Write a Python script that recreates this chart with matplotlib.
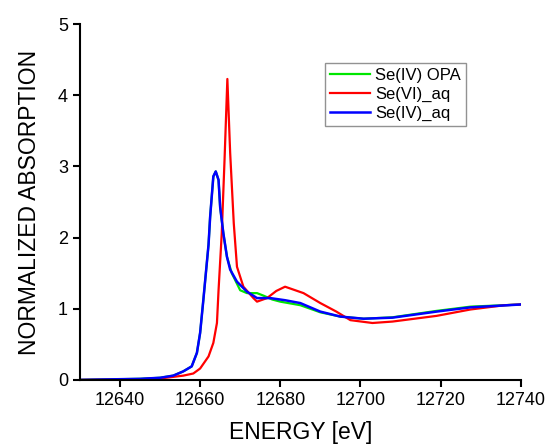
import matplotlib.pyplot as plt

plt.rcParams["font.family"] = ["Liberation Sans", "DejaVu Sans"]

# energy [eV] and normalized absorption
energy_opa = [12630, 12640, 12645, 12650, 12653.3, 12655.8, 12657.9, 12659.2, 12660, 12660.8,
              12662.1, 12662.5, 12663.3, 12663.9, 12664.6, 12665, 12665.8, 12666.7, 12667.9,
              12670, 12671.7, 12674.2, 12676, 12678, 12680, 12685, 12690, 12695, 12700.8,
              12708, 12719, 12727.5, 12740]
se4_opa = [0.0, 0.01, 0.015, 0.03, 0.06, 0.12, 0.19, 0.38, 0.66, 1.12,
           1.9, 2.29, 2.86, 2.93, 2.81, 2.43, 2.06, 1.73, 1.5,
           1.26, 1.22, 1.22, 1.18, 1.13, 1.1, 1.05, 0.95, 0.89, 0.86,
           0.88, 0.97, 1.03, 1.06]

energy_aq4 = [12630, 12640, 12645, 12650, 12653.3, 12655.8, 12657.9, 12659.2, 12660, 12660.8,
              12662.1, 12662.5, 12663.3, 12663.9, 12664.6, 12665, 12665.8, 12666.7, 12667.5,
              12669.2, 12671.7, 12674.2, 12677.5, 12681.2, 12685, 12690, 12695, 12700.8,
              12708, 12719, 12727.5, 12740]
se4_aq = [0.0, 0.01, 0.015, 0.03, 0.06, 0.12, 0.19, 0.38, 0.66, 1.12,
          1.9, 2.29, 2.86, 2.93, 2.81, 2.43, 2.06, 1.73, 1.55,
          1.38, 1.24, 1.15, 1.15, 1.12, 1.08, 0.96, 0.89, 0.86,
          0.875, 0.96, 1.02, 1.06]

energy_aq6 = [12630, 12640, 12645, 12650, 12655.8, 12658.3, 12660, 12662.1, 12663.3, 12664.2,
              12664.6, 12665.4, 12666.1, 12666.8, 12667.5, 12668.4, 12669.2, 12670.8,
              12673.3, 12674.2, 12676.7, 12679, 12681.2, 12685.8, 12690, 12694, 12697.5,
              12703, 12708, 12719, 12727.5, 12736, 12740]
se6_aq = [0.0, 0.005, 0.01, 0.02, 0.06, 0.09, 0.16, 0.33, 0.52, 0.8,
          1.26, 2.06, 3.1, 4.23, 3.19, 2.2, 1.59, 1.31,
          1.15, 1.1, 1.15, 1.25, 1.31, 1.22, 1.08, 0.96, 0.84,
          0.8, 0.82, 0.9, 0.99, 1.05, 1.06]

fig = plt.figure(figsize=(5.51, 4.48), dpi=100)
ax = fig.add_axes([0.145, 0.152, 0.8, 0.794])

ax.plot(energy_opa, se4_opa, color="#00e600", lw=1.6, label="Se(IV) OPA")
ax.plot(energy_aq6, se6_aq, color="#ff0000", lw=1.6, label="Se(VI)_aq")
ax.plot(energy_aq4, se4_aq, color="#0000ff", lw=1.8, label="Se(IV)_aq")

ax.set_xlim(12630, 12740)
ax.set_ylim(0, 5)
ax.set_xticks([12640, 12660, 12680, 12700, 12720, 12740])
ax.set_yticks([0, 1, 2, 3, 4, 5])
ax.spines["top"].set_visible(False)
ax.spines["right"].set_visible(False)
ax.spines["left"].set_linewidth(1.5)
ax.spines["bottom"].set_linewidth(1.5)
ax.tick_params(direction="out", length=5, width=1.5, labelsize=13)

ax.set_xlabel("ENERGY [eV]", fontsize=16.5, labelpad=9)
ax.set_ylabel("NORMALIZED ABSORPTION", fontsize=16.5, labelpad=12)

leg = ax.legend(loc="upper left", bbox_to_anchor=(0.557, 0.89), fontsize=12,
                frameon=True, fancybox=False, handlelength=2.35, labelspacing=0.23,
                borderpad=0.3, handletextpad=0.35, borderaxespad=0)
leg.get_frame().set_edgecolor("#777777")
leg.get_frame().set_linewidth(1.0)

plt.savefig("out.png")
plt.close()
